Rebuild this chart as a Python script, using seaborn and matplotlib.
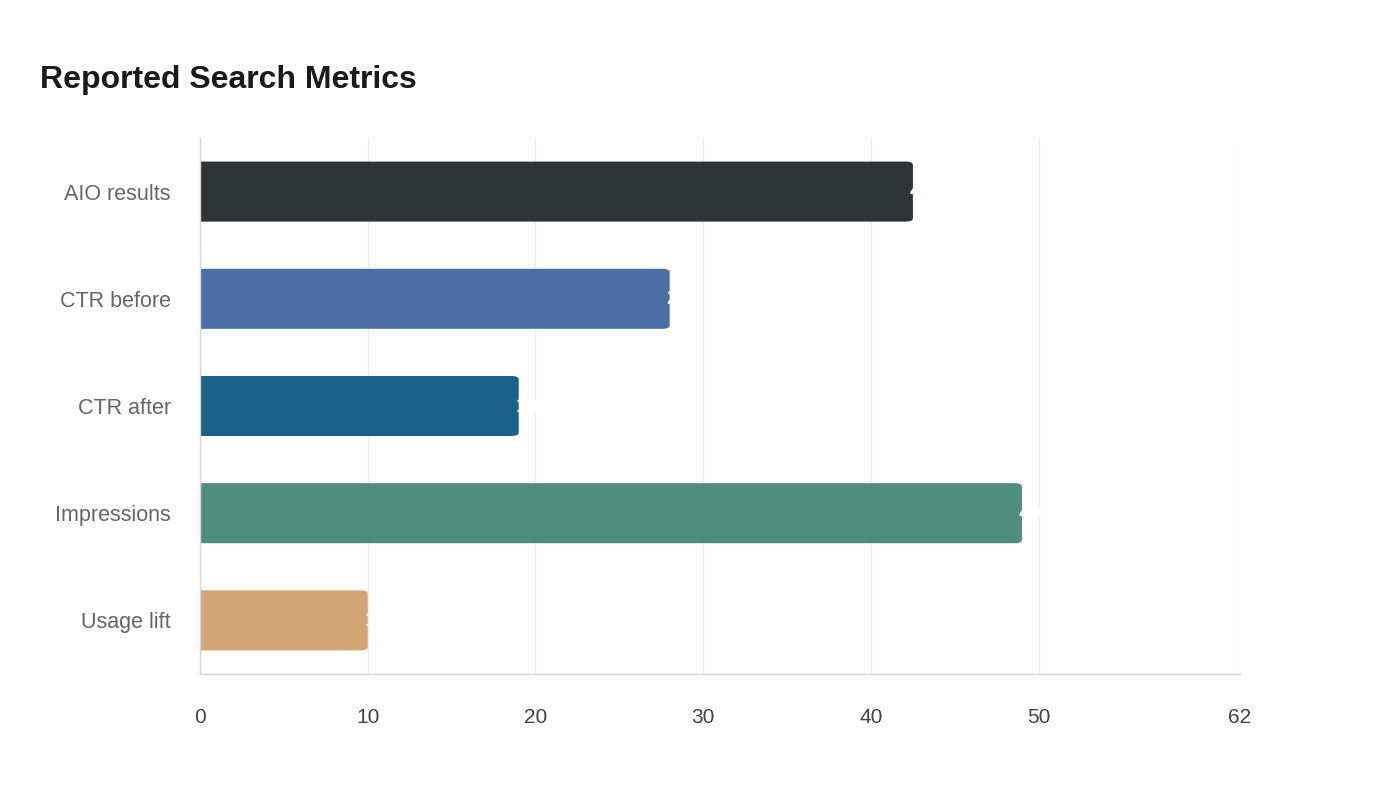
import matplotlib
matplotlib.use("Agg")
import matplotlib.pyplot as plt
import seaborn as sns
import pandas as pd
from matplotlib.patches import FancyBboxPatch

categories = ["AIO results", "CTR before", "CTR after", "Impressions", "Usage lift"]
values = [42.5, 28, 19, 49, 10]
value_labels = ["42.5", "28", "19", "49", "10"]
colors = ["#2d3436", "#4a6fa5", "#1a6189", "#4f8e7c", "#d4a574"]
x_ticks = [0, 10, 20, 30, 40, 50, 62]

sns.set_theme(style="white")
plt.rcParams["font.family"] = ["Liberation Sans", "DejaVu Sans"]

df = pd.DataFrame({"category": categories, "value": values})

fig = plt.figure(figsize=(14, 8), dpi=100)
ax = fig.add_axes([200/1400, 1-674/800, 1040/1400, (674-138)/800])

sns.barplot(data=df, y="category", x="value", hue="category", palette=colors,
            order=categories, hue_order=categories, legend=False, width=0.56,
            ax=ax, saturation=1)

# replace rectangles with bars rounded at the value end
for patch in list(ax.patches):
    x0, y0 = patch.get_x(), patch.get_y()
    w, h = patch.get_width(), patch.get_height()
    fc = patch.get_facecolor()
    patch.remove()
    rb = FancyBboxPatch((x0 - 2, y0), w + 2, h, boxstyle="round,pad=0,rounding_size=0.45",
                        mutation_aspect=h / 0.6 * 0.075, facecolor=fc, edgecolor="none", zorder=3)
    ax.add_patch(rb)

for i, (v, lab) in enumerate(zip(values, value_labels)):
    ax.annotate(lab, xy=(v, i), xytext=(-2.5, 0), textcoords="offset points",
                ha="left", va="center", color="white", fontsize=15, fontweight="bold", zorder=4)

ax.set_xlim(0, 62)
ax.set_ylim(4.5, -0.5)
ax.set_xticks(x_ticks)
ax.set_xticklabels([str(t) for t in x_ticks])
ax.set_xlabel("")
ax.set_ylabel("")
ax.grid(axis="x", color="#ececec", linewidth=1, zorder=0)
ax.set_axisbelow(True)
for s in ["top", "right"]:
    ax.spines[s].set_visible(False)
ax.spines["left"].set_color("#d6d6d6")
ax.spines["bottom"].set_color("#d6d6d6")
ax.spines["left"].set_linewidth(1)
ax.spines["bottom"].set_linewidth(1)
ax.spines["left"].set_zorder(5)
ax.tick_params(axis="x", length=12, color="#e3e3e3", labelsize=15, labelcolor="#444444", pad=12.5)
ax.tick_params(axis="y", length=0, labelsize=15.5, labelcolor="#666666", pad=21)

fig.text(40/1400, 1-80/800, "Reported Search Metrics", fontsize=23, fontweight="bold",
         color="#1a1a1a", ha="left", va="center")

fig.savefig("out.png", dpi=100, facecolor="white")
